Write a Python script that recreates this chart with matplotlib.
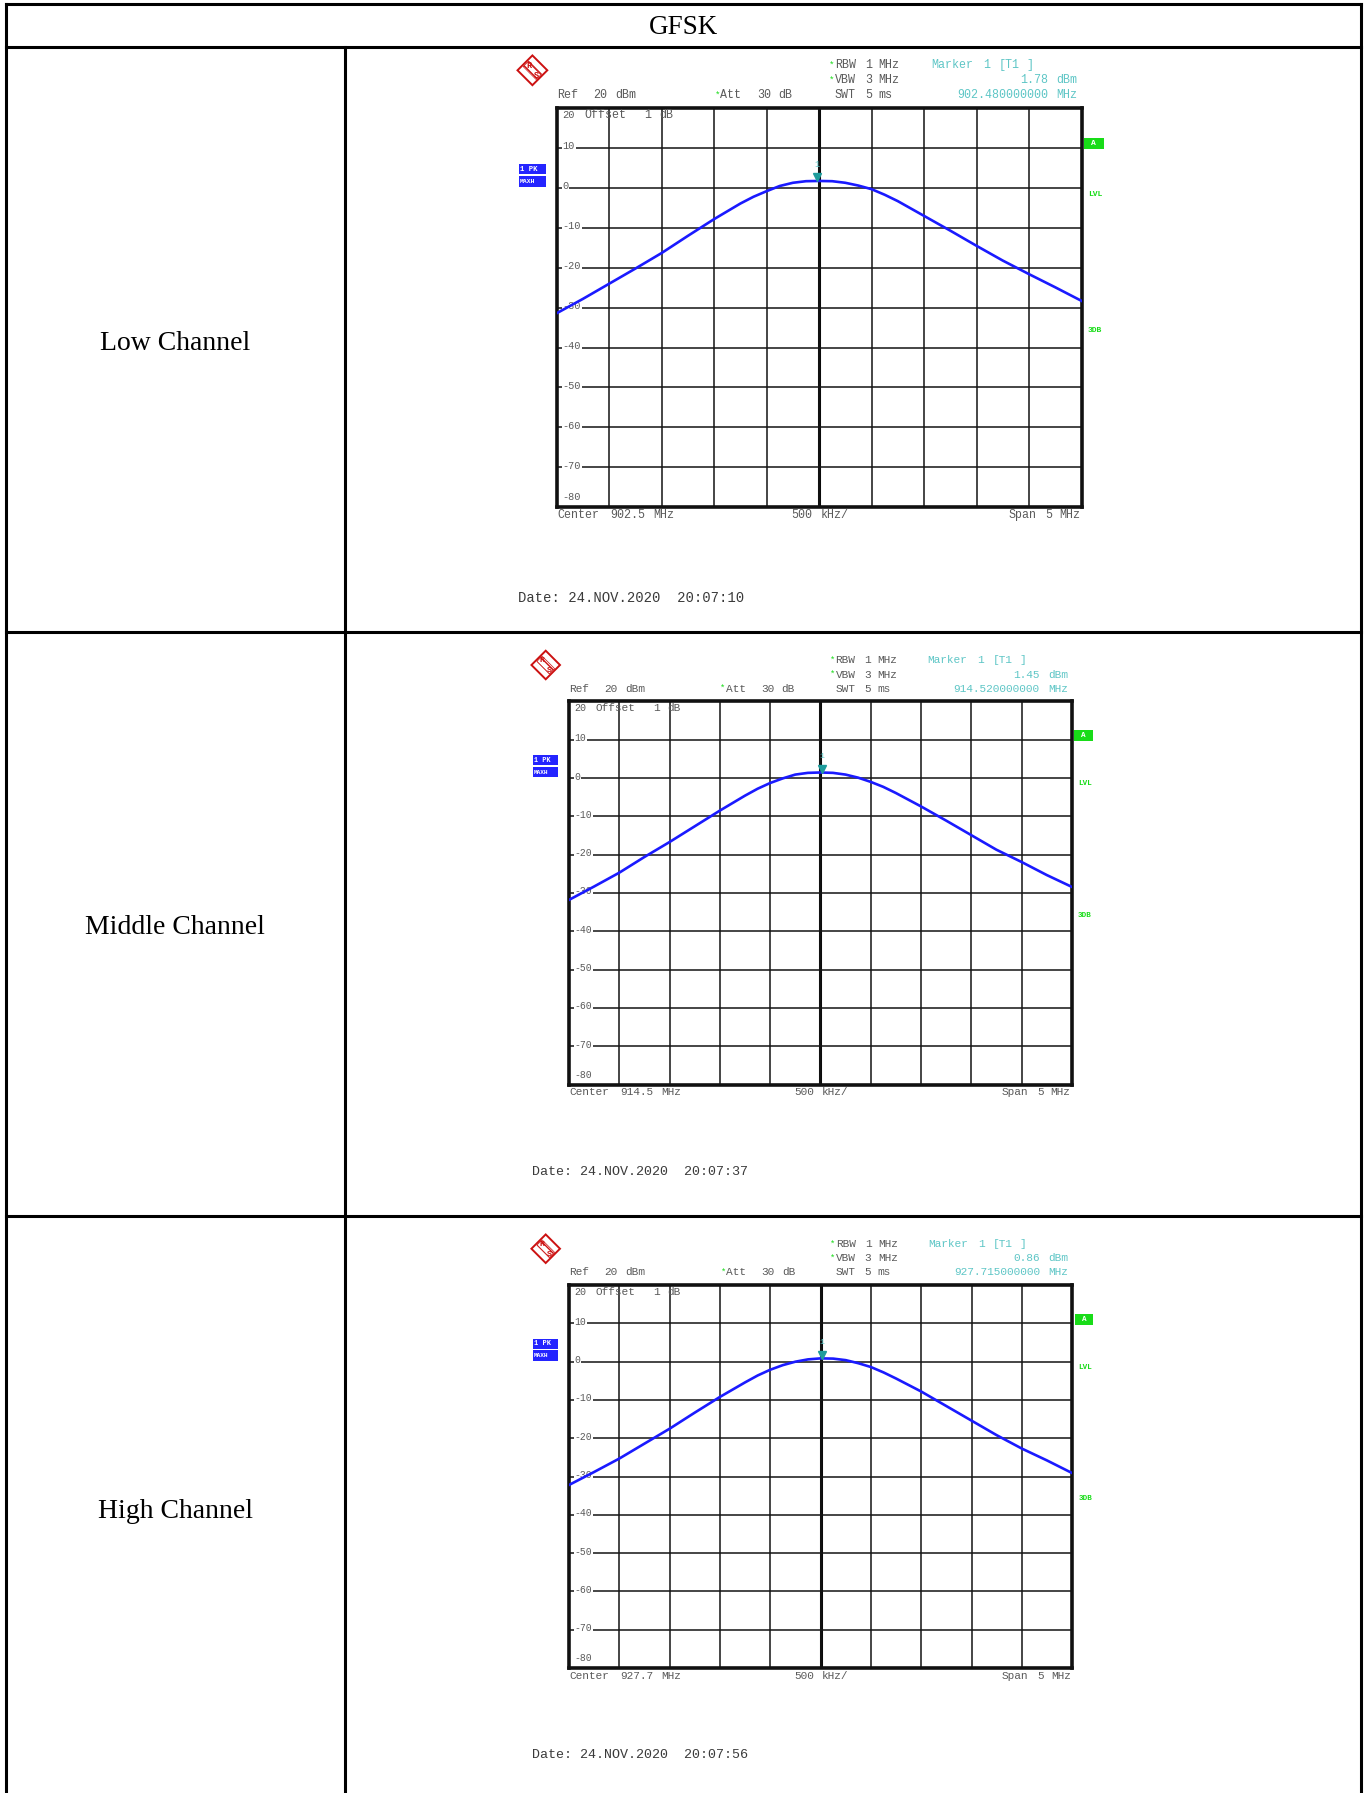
import numpy as np
import matplotlib
matplotlib.use("Agg")
import matplotlib.pyplot as plt
from matplotlib.patches import Polygon, Rectangle

# ---------------- data ----------------
table_title = "GFSK"
channel_names = ["Low Channel", "Middle Channel", "High Channel"]
center_freqs = [902.5, 914.5, 927.7]          # MHz
span_mhz = 5.0
marker_offsets = [-0.02, 0.02, 0.015]         # MHz from centre
marker_levels = [1.78, 1.45, 0.86]            # dBm
marker_freq_labels = ["902.480000000", "914.520000000", "927.715000000"]
marker_level_labels = ["1.78", "1.45", "0.86"]
center_labels = ["902.5", "914.5", "927.7"]
date_labels = ["Date: 24.NOV.2020  20:07:10",
               "Date: 24.NOV.2020  20:07:37",
               "Date: 24.NOV.2020  20:07:56"]
y_ticks = [20, 10, 0, -10, -20, -30, -40, -50, -60, -70, -80]

freq_offsets = [-2.5, -2.25, -2.0, -1.75, -1.5, -1.25, -1.0, -0.75, -0.625, -0.5,
                -0.375, -0.25, -0.125, 0.0, 0.125, 0.25, 0.375, 0.5, 0.625, 0.75,
                1.0, 1.25, 1.5, 1.75, 2.0, 2.25, 2.5]
low_levels = [-31.4, -27.8, -24.0, -20.2, -16.3, -12.0, -7.8, -3.9, -2.2, -0.8,
              0.5, 1.3, 1.7, 1.76, 1.7, 1.3, 0.6, -0.3, -1.7, -3.3,
              -7.0, -10.7, -14.5, -18.2, -21.6, -24.9, -28.3]
mid_levels = [-31.8, -28.3, -24.7, -20.6, -16.7, -12.6, -8.5, -4.6, -2.8, -1.3,
              -0.1, 0.9, 1.35, 1.45, 1.35, 0.9, 0.1, -1.0, -2.3, -3.9,
              -7.4, -11.1, -14.9, -18.7, -21.9, -25.3, -28.4]
high_levels = [-32.2, -28.8, -25.3, -21.4, -17.5, -13.3, -9.2, -5.4, -3.6, -2.1,
               -0.9, 0.0, 0.6, 0.86, 0.8, 0.4, -0.4, -1.4, -2.8, -4.4,
               -7.8, -11.6, -15.4, -19.2, -22.7, -25.8, -29.1]
all_levels = [low_levels, mid_levels, high_levels]

# ---------------- layout ----------------
FW, FH = 1367, 1793
fig = plt.figure(figsize=(FW / 100, FH / 100), dpi=100)
fig.patch.set_facecolor("white")

tab = fig.add_axes([0, 0, 1, 1])
tab.set_xlim(0, FW)
tab.set_ylim(FH, 0)
tab.axis("off")

LW = 2.2
XL, XR, XC = 6, 1361, 345
YT, YH = 4.3, 46.7
row_seps = [632.3, 1216.4]
kw = dict(color="black", lw=LW, solid_capstyle="projecting")
tab.plot([XL, XR], [YT, YT], **kw)
tab.plot([XL, XR], [YH, YH], **kw)
for y in row_seps:
    tab.plot([XL, XR], [y, y], **kw)
tab.plot([XL, XL], [YT, FH + 5], **kw)
tab.plot([XR, XR], [YT, FH + 5], **kw)
tab.plot([XC, XC], [YH, FH + 5], **kw)

serif = ["Liberation Serif", "DejaVu Serif"]
tab.text((XL + XR) / 2, 34.5, table_title, family=serif, fontsize=19.5,
         ha="center", va="baseline")
label_baselines = [349.5, 933.5, 1518.0]
for name, yb in zip(channel_names, label_baselines):
    tab.text(175, yb, name, family=serif, fontsize=20, ha="center", va="baseline")

# spectrum panels: (left, top, right, bottom) in pixels
frames = [(556.7, 108.2, 1081.5, 507.1),
          (569.0, 701.4, 1071.8, 1084.6),
          (569.0, 1285.1, 1072.2, 1668.0)]

mono = ["Liberation Mono", "DejaVu Sans Mono"]
GRAY = "#5a5a5a"
CYAN = "#5ec6c6"
GREEN = "#18dc18"
BLUE = "#2424ff"
RED = "#cc1111"

for i, (l, t, r, b) in enumerate(frames):
    ax = fig.add_axes([l / FW, 1 - b / FH, (r - l) / FW, (b - t) / FH])
    s = (r - l) / 502.86
    cf = center_freqs[i]
    f = cf + np.array(freq_offsets)
    ax.set_xlim(cf - span_mhz / 2, cf + span_mhz / 2)
    ax.set_ylim(-80, 20)
    ax.set_xticks(cf + span_mhz * np.arange(-5, 6) / 10)
    ax.set_yticks(y_ticks)
    ax.grid(True, color="#141414", lw=1.1)
    ax.tick_params(length=0, labelleft=False, labelbottom=False)
    ax.axvline(cf, color="#0a0a0a", lw=2.2, zorder=1.5)
    for sp in ax.spines.values():
        sp.set_linewidth(2.6)
        sp.set_color("#111111")

    ax.plot(f, all_levels[i], color="#1a1aff", lw=1.9, zorder=5)

    # marker
    mf = cf + marker_offsets[i]
    ax.plot([mf], [marker_levels[i] + 0.9], marker="v", ms=5.5 * s,
            color="#1e9c9c", zorder=6, ls="none")
    ax.text(mf, marker_levels[i] + 4.2, "1", color=CYAN, family=mono,
            fontsize=6 * s, ha="center", va="center", zorder=6)

    T = ax.transAxes
    fs = 8.0 * s

    def txt(x, y, st, color=GRAY, size=fs, ha="left", **k):
        ax.text(x, y, st, transform=T, color=color, family=mono, fontsize=size,
                ha=ha, va="center", clip_on=False, **k)

    # header rows
    y1, y2, y3 = 1.1072, 1.0699, 1.0336
    for yy, w1, w2 in [(y1, "RBW", "1"), (y2, "VBW", "3")]:
        txt(0.5195, yy, "*", color=GREEN, size=fs * 0.8)
        txt(0.530, yy, w1)
        txt(0.5877, yy, w2)
        txt(0.6136, yy, "MHz")
    txt(0.0, y3, "Ref")
    txt(0.0698, y3, "20")
    txt(0.1112, y3, "dBm")
    txt(0.3011, y3, "*", color=GREEN, size=fs * 0.8)
    txt(0.3117, y3, "Att")
    txt(0.3823, y3, "30")
    txt(0.4229, y3, "dB")
    txt(0.530, y3, "SWT")
    txt(0.5877, y3, "5")
    txt(0.6136, y3, "ms")
    txt(0.7135, y1, "Marker", color=CYAN)
    txt(0.8125, y1, "1", color=CYAN)
    txt(0.8425, y1, "[T1", color=CYAN)
    txt(0.8953, y1, "]", color=CYAN)
    txt(0.9359, y2, marker_level_labels[i], color=CYAN, ha="right")
    txt(0.9927, y2, "dBm", color=CYAN, ha="right")
    txt(0.9359, y3, marker_freq_labels[i], color=CYAN, ha="right")
    txt(0.9927, y3, "MHz", color=CYAN, ha="right")

    # offset row
    yo = 0.9832
    txt(0.0106, yo, "20", size=fs * 0.9, zorder=3)
    txt(0.0536, yo, "Offset", zorder=3)
    txt(0.1672, yo, "1", zorder=3)
    txt(0.1956, yo, "dB", zorder=3)

    # y labels on grid lines
    YT_ = ax.get_yaxis_transform()
    for v in y_ticks[1:-1]:
        ax.text(0.011, v + 0.4, str(v), transform=YT_, color=GRAY, family=mono,
                fontsize=fs * 0.88, ha="left", va="center", zorder=3,
                bbox=dict(fc="white", ec="none", pad=0.6))
    txt(0.011, 0.026, str(y_ticks[-1]), size=fs * 0.88)

    # bottom labels
    yb_ = -0.0205
    txt(0.0016, yb_, "Center")
    txt(0.1023, yb_, center_labels[i])
    txt(0.1834, yb_, "MHz")
    txt(0.4472, yb_, "500")
    txt(0.5032, yb_, "kHz/")
    txt(0.8604, yb_, "Span")
    txt(0.931, yb_, "5")
    txt(0.9976, yb_, "MHz", ha="right")

    # date
    txt(-0.0739, -0.2283, date_labels[i], color="#3a3a3a", size=9.6 * s)

    # right side indicators
    ax.add_patch(Rectangle((1.0049, 0.8966), 0.0373, 0.0279, transform=T,
                           fc=GREEN, ec="none", clip_on=False))
    txt(1.0235, 0.9105, "A", color="white", size=5.5 * s, ha="center",
        fontweight="bold")
    txt(1.026, 0.7847, "LVL", color=GREEN, size=5.5 * s, ha="center",
        fontweight="bold")
    txt(1.026, 0.4418, "3DB", color=GREEN, size=5.5 * s, ha="center",
        fontweight="bold")

    # left trace indicators
    ax.add_patch(Rectangle((-0.0714, 0.8341), 0.0503, 0.0252, transform=T,
                           fc=BLUE, ec="none", clip_on=False))
    ax.add_patch(Rectangle((-0.0714, 0.8015), 0.0503, 0.028, transform=T,
                           fc=BLUE, ec="none", clip_on=False))
    txt(-0.0695, 0.8467, "1 PK", color="white", size=5.0 * s, fontweight="bold")
    txt(-0.0705, 0.8155, "MAXH", color="white", size=4.4 * s, fontweight="bold")

    # R&S logo
    cx, cy, hx, hy = -0.0463, 1.095, 0.0284, 0.0373
    outer = [[cx - hx, cy], [cx, cy + hy], [cx + hx, cy], [cx, cy - hy]]
    ax.add_patch(Polygon(outer, closed=True, fill=False, ec=RED, lw=1.4,
                         transform=T, clip_on=False))
    k = 0.62
    inner = [[cx - hx * k, cy + hy * 0.25], [cx - hx * 0.25, cy + hy * k],
             [cx + hx * k, cy - hy * 0.25], [cx + hx * 0.25, cy - hy * k]]
    ax.add_patch(Polygon(inner, closed=True, fill=False, ec=RED, lw=0.5,
                         hatch="\\\\\\\\", transform=T, clip_on=False))
    txt(cx - 0.007, cy + 0.012, "R", color=RED, size=6 * s, ha="center",
        fontweight="bold")
    txt(cx + 0.007, cy - 0.014, "S", color=RED, size=6 * s, ha="center",
        fontweight="bold")

fig.savefig("out.png", dpi=100, facecolor="white")
